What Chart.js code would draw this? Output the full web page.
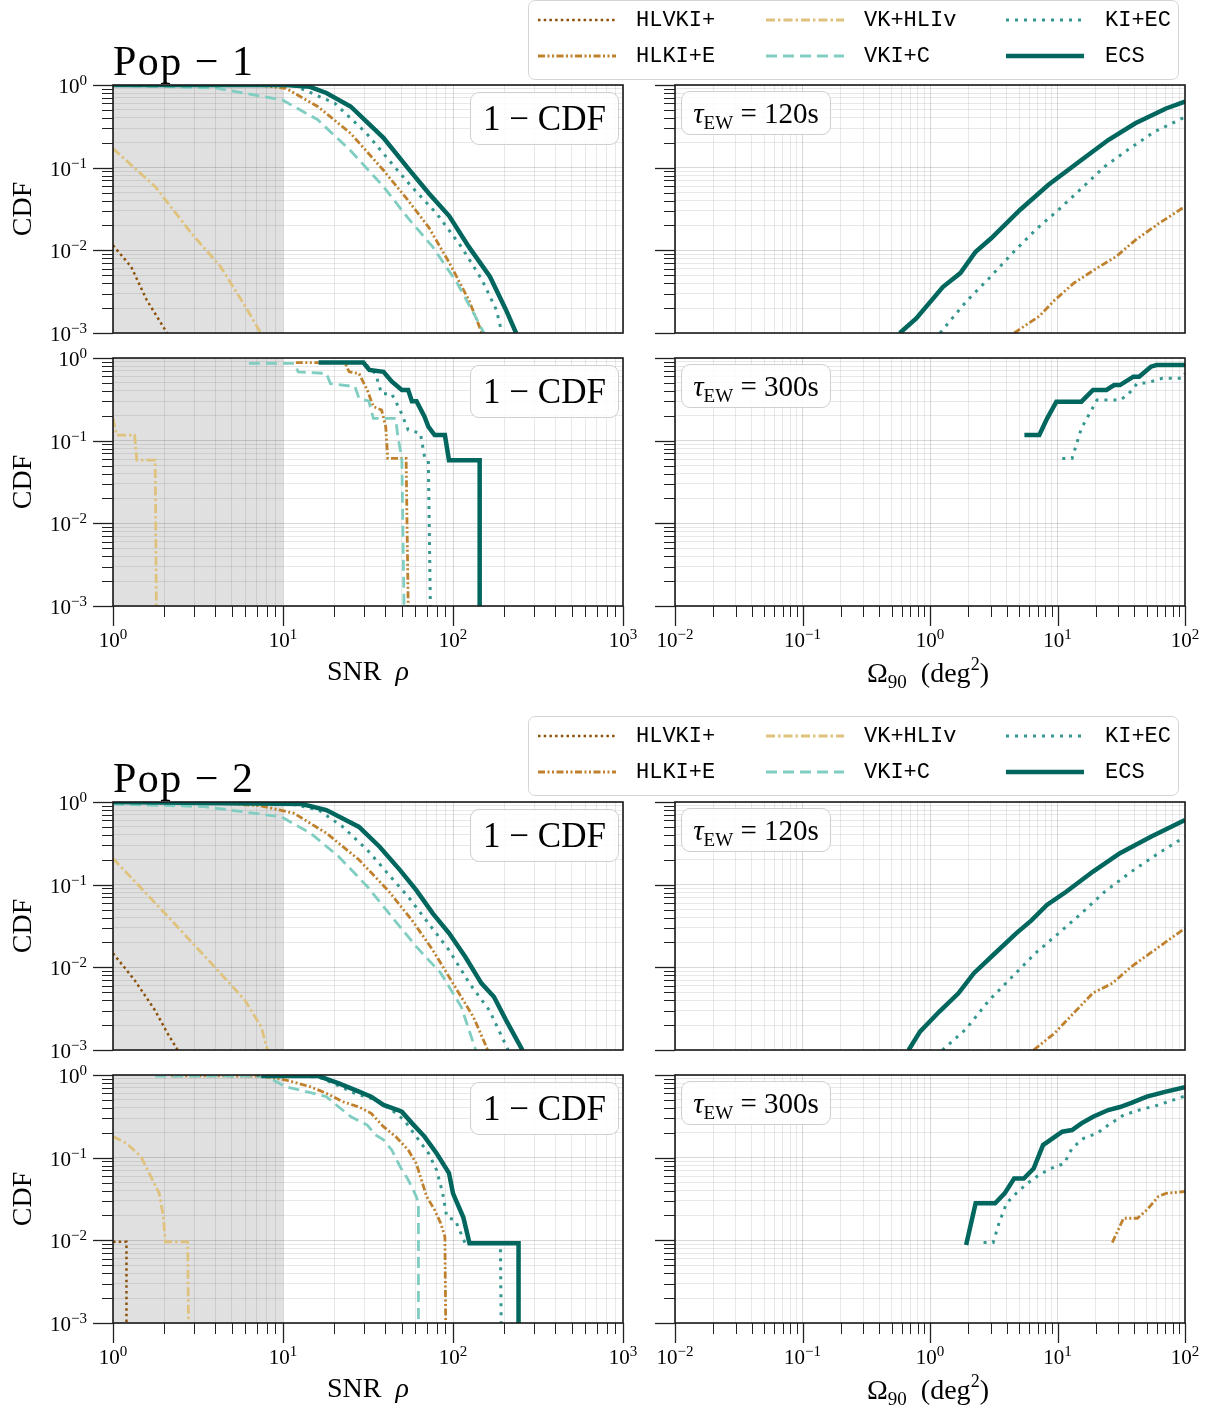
<!DOCTYPE html>
<html>
<head>
<meta charset="utf-8">
<title>SNR / sky area CDFs</title>
<script src="https://cdn.jsdelivr.net/npm/chart.js@4.4.1/dist/chart.umd.min.js"></script>
<style>
  html, body { margin: 0; padding: 0; background: #fff; }
  #stage { position: relative; width: 1222px; height: 1414px; overflow: hidden;
           font-family: "Liberation Serif", "DejaVu Serif", serif; color: #000; }
  #stage canvas { position: absolute; z-index: 1; }
  .txt { position: absolute; line-height: 1; white-space: nowrap; z-index: 3; }
  .title { font-size: 42px; letter-spacing: 1.5px; }
  .xlab { font-size: 28px; width: 240px; text-align: center; }
  .ylab { font-size: 28px; width: 120px; height: 30px; line-height: 30px; text-align: center;
          transform: rotate(-90deg); }
  .note { position: absolute; z-index: 2; box-sizing: border-box; border: 1.5px solid #cfcfcf;
          border-radius: 9px; background: rgba(255,255,255,0.85); text-align: center; white-space: nowrap; }
  .cdf { width: 149px; height: 53px; font-size: 35px; line-height: 51px; }
  .tau { width: 150px; height: 44px; font-size: 29px; line-height: 42px; }
  .sub { font-size: 19px; position: relative; top: 6px; }
  .sup { font-size: 18px; position: relative; top: -12px; }
  .legend { position: absolute; left: 528px; width: 651px; height: 80px; box-sizing: border-box;
            border: 1.5px solid #d5d5d5; border-radius: 7px; background: rgba(255,255,255,0.9); z-index: 2;
            font-family: "Liberation Mono", "DejaVu Sans Mono", monospace; font-size: 22px; }
  .legend svg { position: absolute; }
  .legend span { position: absolute; line-height: 1; }
</style>
</head>
<body>
<div id="stage">
  <div class="txt title" style="left:113px;top:40px">Pop − 1</div>
  <div class="txt title" style="left:113px;top:757px">Pop − 2</div>

  <div class="txt xlab" style="left:248px;top:657px">SNR&nbsp; <i>ρ</i></div>
  <div class="txt xlab" style="left:808px;top:659px">Ω<span class="sub">90</span>&nbsp; (deg<span class="sup">2</span>)</div>
  <div class="txt xlab" style="left:248px;top:1374px">SNR&nbsp; <i>ρ</i></div>
  <div class="txt xlab" style="left:808px;top:1376px">Ω<span class="sub">90</span>&nbsp; (deg<span class="sup">2</span>)</div>
</div>

<script>
// ---- series (legend order) ----
const seriesNames  = ['HLVKI+', 'HLKI+E', 'VK+HLIv', 'VKI+C', 'KI+EC', 'ECS'];
const seriesColors = ['#8c510a', '#bf812d', '#dfc27d', '#80cdc1', '#35978f', '#01665e'];
const seriesWidths = [2.5, 2.8, 2.8, 2.8, 3, 4.5];
const seriesDashes = [[2.5, 3.2], [7, 2.5, 2, 2.5, 2, 2.5], [9, 3, 2.5, 3], [11, 6], [3, 6], []];

// ---- axes ----
const snrTickValues  = [1, 10, 100, 1000];
const snrTickExps    = ['0', '1', '2', '3'];
const areaTickValues = [0.01, 0.1, 1, 10, 100];
const areaTickExps   = ['−2', '−1', '0', '1', '2'];
const cdfTickValues  = [1, 0.1, 0.01, 0.001];
const cdfTickExps    = ['0', '−1', '−2', '−3'];
const shadeRange     = [1, 10];

// ---- Pop 1, SNR, tau = 120s ----
const p1SnrTopHLVKI = [[1, 0.0115], [1.28, 0.0063], [1.58, 0.0025], [2.08, 0.001]];
const p1SnrTopHLKIE = [[1, 1], [7.4, 0.99], [10.4, 0.91], [16, 0.55], [25, 0.26], [39, 0.093], [54, 0.041], [72, 0.019], [95, 0.0071], [124, 0.0025], [148, 0.001]];
const p1SnrTopVKHLI = [[1, 0.17], [1.77, 0.059], [2.9, 0.016], [4.3, 0.0063], [6.0, 0.0021], [7.4, 0.001]];
const p1SnrTopVKIC  = [[1, 0.99], [4.0, 0.92], [9.9, 0.66], [16, 0.38], [25, 0.16], [39, 0.059], [54, 0.025], [76, 0.011], [106, 0.004], [135, 0.0016], [152, 0.001]];
const p1SnrTopKIEC  = [[1, 1], [11.6, 0.99], [20.2, 0.6], [31, 0.26], [44, 0.11], [57, 0.059], [80, 0.028], [112, 0.011], [148, 0.0044], [180, 0.0019], [194, 0.001]];
const p1SnrTopECS   = [[1, 1], [10.4, 1], [14.4, 0.95], [18, 0.8], [25, 0.55], [39, 0.23], [54, 0.10], [72, 0.049], [95, 0.026], [124, 0.011], [165, 0.0048], [205, 0.0019], [235, 0.001]];

// ---- Pop 1, SNR, tau = 300s ----
const p1SnrBotVKHLI = [[1, 0.186], [1.05, 0.117], [1.34, 0.117], [1.38, 0.058], [1.77, 0.058], [1.8, 0.001]];
const p1SnrBotHLKIE = [[11.9, 0.88], [23.1, 0.88], [24.5, 0.68], [28, 0.65], [31.3, 0.41], [34, 0.258], [38, 0.235], [40.2, 0.148], [41.3, 0.061], [53, 0.061], [54.5, 0.001]];
const p1SnrBotVKIC  = [[6.3, 0.86], [11.6, 0.86], [12.3, 0.68], [18, 0.65], [19, 0.49], [26.5, 0.45], [28, 0.325], [32, 0.30], [34, 0.186], [46, 0.186], [47.4, 0.112], [50, 0.061], [51.5, 0.001]];
const p1SnrBotKIEC  = [[17, 0.88], [29.7, 0.88], [35, 0.65], [38, 0.37], [43.6, 0.37], [48.8, 0.235], [54.5, 0.135], [64.3, 0.123], [68, 0.064], [71.6, 0.058], [73.6, 0.001]];
const p1SnrBotECS   = [[16.2, 0.88], [29.7, 0.88], [32.2, 0.716], [39, 0.68], [43.6, 0.52], [50, 0.41], [54.5, 0.41], [57.3, 0.30], [61, 0.30], [68, 0.195], [71.6, 0.148], [78, 0.117], [89.6, 0.117], [94.7, 0.058], [143.5, 0.058], [143.5, 0.001]];

// ---- Pop 1, sky area, tau = 120s ----
const p1AreaTopHLKIE = [[4.57, 0.001], [7.2, 0.0016], [9.5, 0.0025], [13.4, 0.004], [20.4, 0.0061], [28.8, 0.0084], [40.8, 0.0133], [62, 0.021], [100, 0.034]];
const p1AreaTopKIEC  = [[1.2, 0.001], [1.92, 0.0024], [2.91, 0.0046], [4.42, 0.0092], [6.7, 0.0176], [10.2, 0.031], [15.4, 0.056], [23.4, 0.103], [35.5, 0.164], [57.7, 0.272], [100, 0.41]];
const p1AreaTopECS   = [[0.58, 0.001], [0.78, 0.0015], [1.26, 0.0036], [1.73, 0.0053], [2.28, 0.0096], [3.02, 0.014], [5.1, 0.031], [8.5, 0.062], [15.4, 0.124], [25, 0.216], [40.8, 0.344], [71, 0.52], [100, 0.63]];

// ---- Pop 1, sky area, tau = 300s ----
const p1AreaBotKIEC = [[10.9, 0.061], [13, 0.061], [15.4, 0.141], [20.4, 0.31], [30.9, 0.31], [35.5, 0.357], [42.3, 0.494], [50.2, 0.5], [66.4, 0.568], [95, 0.568], [100, 0.65]];
const p1AreaBotECS  = [[5.5, 0.117], [7.2, 0.117], [8.3, 0.186], [9.8, 0.296], [15.4, 0.296], [19, 0.41], [24.2, 0.41], [27.8, 0.47], [30.9, 0.47], [39.4, 0.594], [43.7, 0.594], [54, 0.785], [59.8, 0.82], [100, 0.82]];

// ---- Pop 2, SNR, tau = 120s ----
const p2SnrTopHLVKI = [[1, 0.0148], [1.34, 0.007], [1.77, 0.003], [2.09, 0.0016], [2.4, 0.001]];
const p2SnrTopHLKIE = [[1, 1], [4, 0.98], [7.4, 0.9], [11.6, 0.73], [18, 0.42], [28, 0.2], [41.3, 0.086], [57.5, 0.037], [76, 0.0162], [100, 0.0064], [132, 0.0025], [160, 0.001]];
const p2SnrTopVKHLI = [[1, 0.208], [1.5, 0.086], [2.21, 0.037], [3.07, 0.0178], [4.28, 0.0085], [5.97, 0.004], [7.45, 0.0019], [8.1, 0.001]];
const p2SnrTopVKIC  = [[1, 0.945], [3.43, 0.88], [9.8, 0.66], [14.5, 0.42], [21.3, 0.218], [31.3, 0.095], [43.6, 0.041], [60.8, 0.0178], [84.8, 0.0085], [112, 0.0033], [136, 0.001]];
const p2SnrTopKIEC  = [[1, 1], [10.4, 0.98], [16.2, 0.8], [22.5, 0.5], [31.3, 0.263], [41.3, 0.137], [54.5, 0.0716], [71.8, 0.034], [94.7, 0.0162], [125, 0.0064], [164, 0.003], [211, 0.001]];
const p2SnrTopECS   = [[1, 1], [12.9, 0.945], [18, 0.8], [28, 0.5], [37, 0.288], [48.8, 0.15], [60.8, 0.086], [76, 0.045], [94.7, 0.026], [118, 0.0134], [147, 0.0064], [174, 0.0044], [205, 0.0023], [256, 0.001]];

// ---- Pop 2, SNR, tau = 300s ----
const p2SnrBotHLVKI = [[1, 0.0096], [1.2, 0.0096], [1.2, 0.001]];
const p2SnrBotVKHLI = [[1, 0.18], [1.2, 0.149], [1.46, 0.103], [1.67, 0.059], [1.87, 0.037], [1.98, 0.019], [2.03, 0.0096], [2.75, 0.0096], [2.78, 0.001]];
const p2SnrBotVKIC  = [[1.77, 0.97], [7.9, 0.97], [10.4, 0.72], [13.7, 0.63], [18, 0.547], [21.3, 0.41], [25.1, 0.313], [31.3, 0.248], [35, 0.188], [39, 0.164], [43.6, 0.124], [48.8, 0.078], [54.5, 0.054], [60.8, 0.034], [62.6, 0.028], [62.6, 0.001]];
const p2SnrBotHLKIE = [[2.2, 0.98], [7.45, 0.97], [10.4, 0.87], [14.5, 0.72], [18, 0.6], [22.5, 0.475], [28, 0.41], [33, 0.344], [39, 0.237], [46, 0.18], [54.5, 0.124], [60.8, 0.085], [64.3, 0.059], [69.9, 0.034], [78, 0.0233], [84.8, 0.016], [89.6, 0.011], [90.6, 0.001]];
const p2SnrBotKIEC  = [[7, 0.98], [16.2, 0.95], [26.5, 0.6], [35, 0.5], [43.6, 0.377], [51.5, 0.286], [60.8, 0.18], [71.8, 0.113], [80, 0.071], [87, 0.037], [92, 0.019], [103, 0.0176], [118, 0.0092], [190, 0.0092], [192, 0.001]];
const p2SnrBotECS   = [[7.45, 0.97], [16.2, 0.97], [21.3, 0.79], [28, 0.63], [33, 0.547], [39, 0.434], [47.4, 0.377], [50, 0.36], [57.5, 0.26], [68, 0.18], [80, 0.113], [94.7, 0.065], [100, 0.037], [106, 0.028], [115, 0.019], [125, 0.0092], [243, 0.0092], [243, 0.001]];

// ---- Pop 2, sky area, tau = 120s ----
const p2AreaTopHLKIE = [[6.5, 0.001], [9.5, 0.0016], [13.4, 0.0028], [19, 0.0049], [26.9, 0.0064], [38, 0.0102], [57.7, 0.0162], [100, 0.0297]];
const p2AreaTopKIEC  = [[1.25, 0.001], [1.92, 0.0018], [2.91, 0.004], [4.42, 0.0077], [6.7, 0.0148], [10.2, 0.0258], [15.4, 0.045], [23.4, 0.082], [38, 0.144], [62, 0.24], [100, 0.38]];
const p2AreaTopECS   = [[0.68, 0.001], [0.835, 0.00167], [1.18, 0.0029], [1.67, 0.00485], [2.21, 0.0085], [3.13, 0.0141], [4.74, 0.0258], [6.25, 0.037], [8.26, 0.0568], [11.7, 0.082], [19, 0.144], [30.9, 0.24], [54, 0.38], [100, 0.605]];

// ---- Pop 2, sky area, tau = 300s ----
const p2AreaBotHLKIE = [[26.9, 0.0094], [33, 0.0185], [42.3, 0.0185], [50.2, 0.0233], [62, 0.034], [71, 0.037], [100, 0.039]];
const p2AreaBotKIEC  = [[2.63, 0.0094], [3.13, 0.0094], [3.47, 0.016], [3.98, 0.028], [4.74, 0.037], [5.83, 0.049], [7.2, 0.062], [8.85, 0.074], [11.3, 0.085], [13, 0.13], [16, 0.171], [20.4, 0.197], [25, 0.248], [33, 0.328], [43.7, 0.377], [62, 0.434], [100, 0.557]];
const p2AreaBotECS   = [[1.92, 0.0088], [2.28, 0.028], [3.24, 0.028], [3.85, 0.037], [4.57, 0.056], [5.44, 0.056], [6.5, 0.074], [7.7, 0.142], [10.9, 0.206], [13, 0.216], [15.4, 0.26], [19, 0.313], [25, 0.377], [30.9, 0.41], [38, 0.46], [50.2, 0.547], [71, 0.63], [100, 0.71]];

// ---- layout ----
const plotW = 510, plotH = 248;
const colX = [113, 675];
const rowY = [85, 358, 802, 1075];
const stage = document.getElementById('stage');

const panels = [
  { col: 0, row: 0, axis: 'snr', note: '1 − CDF', series: [[0, p1SnrTopHLVKI], [1, p1SnrTopHLKIE], [2, p1SnrTopVKHLI], [3, p1SnrTopVKIC], [4, p1SnrTopKIEC], [5, p1SnrTopECS]] },
  { col: 0, row: 1, axis: 'snr', note: '1 − CDF', series: [[1, p1SnrBotHLKIE], [2, p1SnrBotVKHLI], [3, p1SnrBotVKIC], [4, p1SnrBotKIEC], [5, p1SnrBotECS]] },
  { col: 1, row: 0, axis: 'area', note: '120s', series: [[1, p1AreaTopHLKIE], [4, p1AreaTopKIEC], [5, p1AreaTopECS]] },
  { col: 1, row: 1, axis: 'area', note: '300s', series: [[4, p1AreaBotKIEC], [5, p1AreaBotECS]] },
  { col: 0, row: 2, axis: 'snr', note: '1 − CDF', series: [[0, p2SnrTopHLVKI], [1, p2SnrTopHLKIE], [2, p2SnrTopVKHLI], [3, p2SnrTopVKIC], [4, p2SnrTopKIEC], [5, p2SnrTopECS]] },
  { col: 0, row: 3, axis: 'snr', note: '1 − CDF', series: [[0, p2SnrBotHLVKI], [1, p2SnrBotHLKIE], [2, p2SnrBotVKHLI], [3, p2SnrBotVKIC], [4, p2SnrBotKIEC], [5, p2SnrBotECS]] },
  { col: 1, row: 2, axis: 'area', note: '120s', series: [[1, p2AreaTopHLKIE], [4, p2AreaTopKIEC], [5, p2AreaTopECS]] },
  { col: 1, row: 3, axis: 'area', note: '300s', series: [[1, p2AreaBotHLKIE], [4, p2AreaBotKIEC], [5, p2AreaBotECS]] }
];

// full 1..9 per decade ticks, majors at powers of ten
function logTicks(min, max) {
  const out = [];
  for (let e = Math.round(Math.log10(min)); e <= Math.round(Math.log10(max)); e++) {
    for (let m = 1; m <= 9; m++) {
      const v = parseFloat((m * Math.pow(10, e)).toPrecision(6));
      if (v > max * 1.0001) break;
      out.push({ value: v, major: m === 1 });
    }
  }
  return out;
}

function drawPow(ctx, exp, x, baseY, align) {
  ctx.font = '21px "Liberation Serif"';
  const wb = ctx.measureText('10').width;
  ctx.font = '15px "Liberation Serif"';
  const we = ctx.measureText(exp).width;
  const left = align === 'center' ? x - (wb + we) / 2 : x - (wb + we);
  ctx.fillStyle = '#000';
  ctx.textAlign = 'left';
  ctx.textBaseline = 'alphabetic';
  ctx.font = '21px "Liberation Serif"';
  ctx.fillText('10', left, baseY);
  ctx.font = '15px "Liberation Serif"';
  ctx.fillText(exp, left + wb, baseY - 8);
}

function decoPlugin(p) {
  const showX = p.row === 1 || p.row === 3;
  const showY = p.col === 0;
  return {
    id: 'deco',
    beforeDraw(chart) {
      if (p.axis !== 'snr') return;
      const { ctx, chartArea: a } = chart;
      const x0 = chart.scales.x.getPixelForValue(shadeRange[0]);
      const x1 = chart.scales.x.getPixelForValue(shadeRange[1]);
      ctx.save();
      ctx.fillStyle = 'rgba(0,0,0,0.12)';
      ctx.fillRect(x0, a.top, x1 - x0, a.bottom - a.top);
      ctx.restore();
    },
    afterDraw(chart) {
      const { ctx, chartArea: a } = chart;
      const xs = chart.scales.x, ys = chart.scales.y;
      ctx.save();
      ctx.strokeStyle = '#222';
      // tick marks, outward (x ticks only on the lower panel of each pair)
      if (showX) {
        xs.ticks.forEach(t => {
          const px = Math.round(xs.getPixelForValue(t.value)) + 0.5;
          ctx.lineWidth = t.major ? 1.3 : 1;
          ctx.beginPath();
          ctx.moveTo(px, a.bottom);
          ctx.lineTo(px, a.bottom + (t.major ? 20 : 11));
          ctx.stroke();
        });
      }
      ys.ticks.forEach(t => {
        const py = Math.round(ys.getPixelForValue(t.value)) + 0.5;
        ctx.lineWidth = t.major ? 1.3 : 1;
        ctx.beginPath();
        ctx.moveTo(a.left, py);
        ctx.lineTo(a.left - (t.major ? 20 : 11), py);
        ctx.stroke();
      });
      // spines
      ctx.lineWidth = 1.6;
      ctx.strokeStyle = '#1a1a1a';
      ctx.strokeRect(a.left, a.top, a.right - a.left, a.bottom - a.top);
      // tick labels
      if (showX) {
        const vals = p.axis === 'snr' ? snrTickValues : areaTickValues;
        const exps = p.axis === 'snr' ? snrTickExps : areaTickExps;
        vals.forEach((v, i) => drawPow(ctx, exps[i], xs.getPixelForValue(v), a.bottom + 41, 'center'));
      }
      if (showY) {
        cdfTickValues.forEach((v, i) => drawPow(ctx, cdfTickExps[i], a.left - 26, ys.getPixelForValue(v) + 8, 'right'));
      }
      ctx.restore();
    }
  };
}

function makePanel(p) {
  const L = 110, T = 22, R = 32, B = 52;
  const x0 = colX[p.col], y0 = rowY[p.row];
  const xMin = p.axis === 'snr' ? snrTickValues[0] : areaTickValues[0];
  const xMax = p.axis === 'snr' ? snrTickValues[snrTickValues.length - 1] : areaTickValues[areaTickValues.length - 1];
  const yMin = cdfTickValues[cdfTickValues.length - 1], yMax = cdfTickValues[0];

  const cv = document.createElement('canvas');
  cv.width = plotW + L + R;
  cv.height = plotH + T + B;
  cv.style.left = (x0 - L) + 'px';
  cv.style.top = (y0 - T) + 'px';
  stage.appendChild(cv);

  const gridColor = ctx => (ctx.tick && ctx.tick.major) ? 'rgba(0,0,0,0.15)' : 'rgba(0,0,0,0.09)';

  new Chart(cv, {
    type: 'line',
    data: {
      datasets: p.series.map(([k, pts]) => ({
        label: seriesNames[k],
        data: pts.map(([x, y]) => ({ x, y })),
        borderColor: seriesColors[k],
        borderWidth: seriesWidths[k],
        borderDash: seriesDashes[k],
        pointRadius: 0,
        tension: 0,
        fill: false,
        clip: 0,
        order: 5 - k
      }))
    },
    options: {
      responsive: false,
      animation: false,
      events: [],
      layout: { padding: { left: L, top: T, right: R, bottom: B }, autoPadding: false },
      scales: {
        x: {
          type: 'logarithmic', min: xMin, max: xMax,
          afterBuildTicks: s => { s.ticks = logTicks(xMin, xMax); },
          afterFit: s => { s.height = 0; },
          ticks: { display: false },
          grid: { color: gridColor, lineWidth: 1, drawTicks: false },
          border: { display: false }
        },
        y: {
          type: 'logarithmic', min: yMin, max: yMax,
          afterBuildTicks: s => { s.ticks = logTicks(yMin, yMax); },
          afterFit: s => { s.width = 0; },
          ticks: { display: false },
          grid: { color: gridColor, lineWidth: 1, drawTicks: false },
          border: { display: false }
        }
      },
      plugins: { legend: { display: false }, tooltip: { enabled: false } }
    },
    plugins: [decoPlugin(p)]
  });

  // annotation box
  const note = document.createElement('div');
  if (p.axis === 'snr') {
    note.className = 'note cdf';
    note.style.left = (x0 + plotW - 153) + 'px';
    note.style.top = (y0 + 7) + 'px';
    note.textContent = p.note;
  } else {
    note.className = 'note tau';
    note.style.left = (x0 + 6) + 'px';
    note.style.top = (y0 + 6) + 'px';
    note.innerHTML = '<i>τ</i><span class="sub">EW</span> = ' + p.note;
  }
  stage.appendChild(note);

  // y axis title
  if (p.col === 0) {
    const yl = document.createElement('div');
    yl.className = 'txt ylab';
    yl.style.left = (22 - 60) + 'px';
    yl.style.top = (y0 + plotH / 2 - 15) + 'px';
    yl.textContent = 'CDF';
    stage.appendChild(yl);
  }
}

function addLegend(top) {
  const box = document.createElement('div');
  box.className = 'legend';
  box.style.top = top + 'px';
  const lineX = [9, 237, 477], textX = [107, 335, 576], rowMid = [19, 55];
  seriesNames.forEach((name, k) => {
    const col = Math.floor(k / 2), row = k % 2;
    const dash = seriesDashes[k].length ? seriesDashes[k].join(' ') : 'none';
    box.insertAdjacentHTML('beforeend',
      `<svg style="left:${lineX[col]}px;top:${rowMid[row] - 7}px" width="78" height="14">` +
      `<line x1="0" y1="7" x2="78" y2="7" stroke="${seriesColors[k]}" stroke-width="${seriesWidths[k]}" stroke-dasharray="${dash}"/></svg>` +
      `<span style="left:${textX[col]}px;top:${rowMid[row] - 10}px">${name}</span>`);
  });
  stage.appendChild(box);
}

panels.forEach(makePanel);
addLegend(0);
addLegend(716);
</script>
</body>
</html>
